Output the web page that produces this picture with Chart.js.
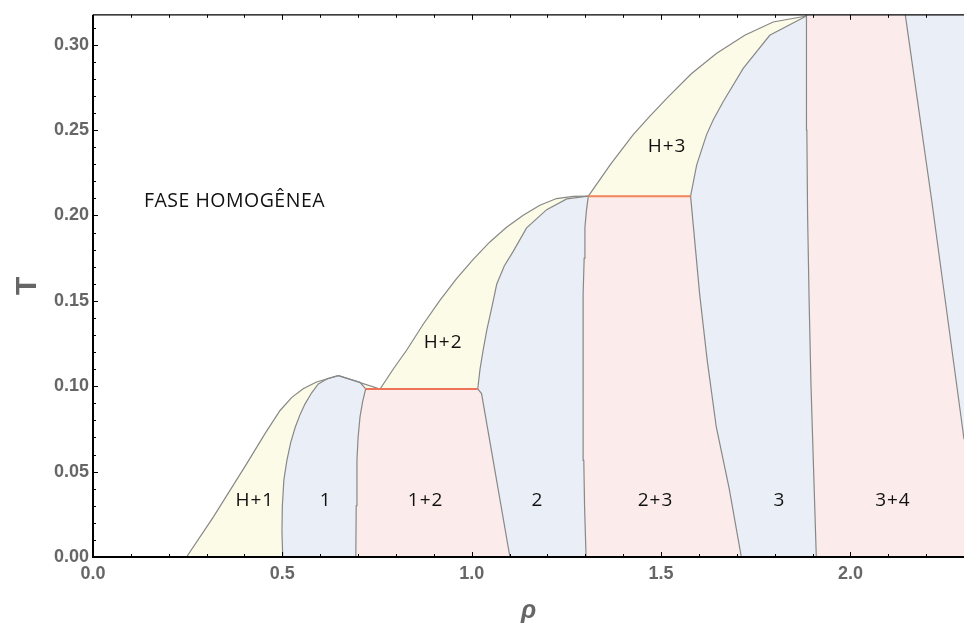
<!DOCTYPE html>
<html>
<head>
<meta charset="utf-8">
<script src="https://cdn.jsdelivr.net/npm/chart.js@4.4.1/dist/chart.umd.min.js"></script>
<style>
  html, body { margin: 0; padding: 0; background: #ffffff; }
  #wrap { width: 964px; height: 626px; }
</style>
</head>
<body>
<div id="wrap"><canvas id="phase" width="964" height="626"></canvas></div>
<script>
// Axis ticks and labels
const rhoTicks = [0, 0.5, 1.0, 1.5, 2.0];
const rhoTickLabels = ['0.0', '0.5', '1.0', '1.5', '2.0'];
const tempTicks = [0, 0.05, 0.10, 0.15, 0.20, 0.25, 0.30];
const tempTickLabels = ['0.00', '0.05', '0.10', '0.15', '0.20', '0.25', '0.30'];
const rhoMax = 2.3;
const tempMax = 0.3175;

// Phase boundaries, [rho, T]
const homH1 = [[0.247, 0], [0.318, 0.0235], [0.406, 0.0547], [0.455, 0.0725], [0.494, 0.0858], [0.525, 0.0935], [0.555, 0.0985], [0.590, 0.1025], [0.648, 0.1062]];
const h1One = [[0.501, 0], [0.499, 0.015], [0.500, 0.030], [0.504, 0.045], [0.512, 0.0566], [0.522, 0.067], [0.534, 0.076], [0.547, 0.0835], [0.560, 0.0897], [0.577, 0.0960], [0.595, 0.1013], [0.620, 0.1045], [0.648, 0.1062]];
const oneTop = [[0.648, 0.1062], [0.705, 0.1023], [0.720, 0.0984]];
const oneOneTwo = [[0.694, 0], [0.695, 0.030], [0.697, 0.0566], [0.700, 0.070], [0.705, 0.0819], [0.712, 0.0910], [0.720, 0.0984]];
const homH2 = [[0.648, 0.1062], [0.758, 0.0984], [0.793, 0.1101], [0.8285, 0.1212], [0.872, 0.1363], [0.916, 0.1503], [0.960, 0.1630], [1.004, 0.1743], [1.048, 0.1845], [1.092, 0.1931], [1.136, 0.2001], [1.180, 0.2060], [1.224, 0.2099], [1.268, 0.2112], [1.308, 0.2113]];
const twoLow = [[1.101, 0], [1.026, 0.0957], [1.016, 0.0984]];
const twoHigh = [[1.016, 0.0984], [1.022, 0.1100], [1.030, 0.1208], [1.040, 0.1330], [1.053, 0.1460], [1.066, 0.1597], [1.086, 0.1704], [1.110, 0.1791], [1.145, 0.1927], [1.198, 0.2034], [1.251, 0.2097], [1.308, 0.2113]];
const twoTwoThree = [[1.302, 0], [1.298, 0.030], [1.296, 0.0566], [1.294, 0.090], [1.294, 0.115], [1.294, 0.135], [1.295, 0.154], [1.297, 0.175], [1.299, 0.193], [1.303, 0.203], [1.308, 0.2113]];
const homH3 = [[1.308, 0.2113], [1.367, 0.2300], [1.426, 0.2472], [1.470, 0.2580], [1.515, 0.2686], [1.580, 0.2830], [1.646, 0.2948], [1.721, 0.3055], [1.796, 0.3133], [1.884, 0.3168]];
const threeLow = [[1.712, 0], [1.680, 0.040], [1.646, 0.076], [1.622, 0.115], [1.602, 0.1538], [1.589, 0.185], [1.578, 0.2113]];
const threeHigh = [[1.578, 0.2113], [1.594, 0.2295], [1.620, 0.2472], [1.638, 0.2560], [1.664, 0.2666], [1.717, 0.2861], [1.787, 0.3055], [1.884, 0.3168]];
const threeThreeFour = [[1.910, 0], [1.903, 0.050], [1.896, 0.100], [1.891, 0.150], [1.887, 0.200], [1.885, 0.250], [1.884, 0.300], [1.884, 0.3175]];
const fourEdge = [[2.145, 0.3175], [2.215, 0.2083], [2.297, 0.0741], [2.3, 0.069]];

// Three-phase lines
const tie12 = [[0.720, 0.0984], [1.016, 0.0984]];
const tie23 = [[1.308, 0.2113], [1.578, 0.2113]];

// Region names and their anchor in (rho, T)
const phaseLabels = [
  ['FASE HOMOGÊNEA', 0.373, 0.2083],
  ['H+1', 0.426, 0.0333],
  ['1', 0.613, 0.0333],
  ['1+2', 0.877, 0.0333],
  ['2', 1.172, 0.0333],
  ['2+3', 1.484, 0.0333],
  ['3', 1.811, 0.0333],
  ['3+4', 2.111, 0.0333],
  ['H+2', 0.9235, 0.1256],
  ['H+3', 1.5145, 0.2404]
];

const YELLOW = '#fbfbe8';
const BLUE = '#eaeff7';
const PINK = '#fcebeb';
const EDGE = '#888888';

const pts = arr => arr.map(([x, y]) => ({ x, y }));
const rev = arr => arr.slice().reverse();

const regions = [
  [YELLOW, [...homH1, ...rev(h1One)]],
  [BLUE, [...h1One, ...oneTop.slice(1), ...rev(oneOneTwo)]],
  [YELLOW, [homH2[0], homH2[1], tie12[0], oneTop[1]]],
  [YELLOW, [...homH2.slice(1), ...rev(twoHigh)]],
  [PINK, [...oneOneTwo, ...tie12.slice(1), ...rev(twoLow)]],
  [BLUE, [...twoLow, ...twoHigh.slice(1), ...rev(twoTwoThree)]],
  [PINK, [...twoTwoThree, ...tie23.slice(1), ...rev(threeLow)]],
  [YELLOW, [...homH3, ...rev(threeHigh)]],
  [BLUE, [...threeLow, ...threeHigh.slice(1), ...rev(threeThreeFour)]],
  [PINK, [...threeThreeFour, ...fourEdge, [rhoMax, 0]]],
  [BLUE, [fourEdge[0], [rhoMax, tempMax], fourEdge[fourEdge.length - 1]]]
];

const boundaries = [homH1, h1One, oneTop, oneOneTwo, homH2, twoLow, twoHigh, twoTwoThree,
  homH3, threeLow, threeHigh, threeThreeFour, fourEdge];

// Higher "order" is painted first, so the filled regions sit underneath the lines
const datasets = [];
regions.forEach(([color, poly]) => datasets.push({
  data: pts(poly), showLine: true, fill: 'shape', backgroundColor: color,
  borderWidth: 0.6, borderColor: color, pointRadius: 0, tension: 0, order: 10
}));
boundaries.forEach(b => datasets.push({
  data: pts(b), showLine: true, fill: false, borderColor: EDGE,
  borderWidth: 1.2, pointRadius: 0, tension: 0, order: 2
}));
datasets.push({ data: pts(tie12), showLine: true, fill: false, borderColor: '#ef7356', borderWidth: 2, pointRadius: 0, order: 1 });
datasets.push({ data: pts(tie23), showLine: true, fill: false, borderColor: '#f0845a', borderWidth: 2, pointRadius: 0, order: 1 });

// Region names drawn at their (rho, T) anchors
const regionText = {
  id: 'regionText',
  afterDatasetsDraw(chart) {
    const { ctx, scales: { x, y } } = chart;
    ctx.save();
    ctx.fillStyle = '#111';
    ctx.textAlign = 'center';
    ctx.textBaseline = 'middle';
    phaseLabels.forEach(([text, r, t], i) => {
      ctx.font = i === 0 ? '19.5px "Open Sans"' : '19px "Open Sans"';
      const sp = i === 0 ? 0.5 : 1;
      ctx.letterSpacing = sp + 'px';
      ctx.fillText(text, x.getPixelForValue(r) + sp / 2, y.getPixelForValue(t));
    });
    ctx.restore();
  }
};

// Frame with inward ticks on bottom, left and top
const frame = {
  id: 'frame',
  afterDatasetsDraw(chart) {
    const { ctx, chartArea: a, scales: { x, y } } = chart;
    ctx.save();
    ctx.strokeStyle = '#000';
    ctx.lineWidth = 1;
    ctx.beginPath();
    for (let i = 0; i <= 23; i++) {
      const px = Math.round(x.getPixelForValue(i / 10)) + 0.5;
      const len = i % 5 === 0 ? 5 : 3;
      ctx.moveTo(px, a.bottom); ctx.lineTo(px, a.bottom - len);
      ctx.moveTo(px, a.top); ctx.lineTo(px, a.top + len);
    }
    for (let i = 0; i <= 31; i++) {
      const py = Math.round(y.getPixelForValue(i / 100)) + 0.5;
      const len = i % 5 === 0 ? 5 : 3;
      ctx.moveTo(a.left, py); ctx.lineTo(a.left + len, py);
    }
    ctx.stroke();
    ctx.lineWidth = 2;
    ctx.beginPath();
    ctx.moveTo(a.left, a.top); ctx.lineTo(a.left, a.bottom); ctx.lineTo(a.right, a.bottom);
    ctx.stroke();
    ctx.lineWidth = 1.3;
    ctx.beginPath();
    ctx.moveTo(a.left, a.top); ctx.lineTo(a.right, a.top);
    ctx.stroke();
    ctx.restore();
  }
};

const tickFont = { family: '"Liberation Sans", Arial, sans-serif', weight: 'bold', size: 18 };

new Chart(document.getElementById('phase'), {
  type: 'scatter',
  data: { datasets },
  options: {
    responsive: false,
    animation: false,
    events: [],
    layout: { padding: { top: 13, right: 0, bottom: 0, left: 0 } },
    plugins: { legend: { display: false }, tooltip: { enabled: false } },
    scales: {
      x: {
        type: 'linear', min: 0, max: rhoMax,
        afterBuildTicks: s => { s.ticks = rhoTicks.map(v => ({ value: v })); },
        afterFit: s => { s.height = 69; },
        ticks: {
          callback: (v, i) => rhoTickLabels[i],
          font: tickFont, color: '#666', padding: 6, maxRotation: 0, autoSkip: false
        },
        grid: { display: false, drawTicks: false },
        border: { display: false },
        title: {
          display: true, text: 'ρ', color: '#666',
          font: { family: '"Liberation Sans", Arial, sans-serif', weight: 'bold', style: 'italic', size: 25 },
          padding: { top: 0, bottom: 0 }
        }
      },
      y: {
        type: 'linear', min: 0, max: tempMax,
        afterBuildTicks: s => { s.ticks = tempTicks.map(v => ({ value: v })); },
        afterFit: s => { s.width = 93; },
        ticks: {
          callback: (v, i) => tempTickLabels[i],
          font: tickFont, color: '#666', padding: 4, autoSkip: false
        },
        grid: { display: false, drawTicks: false },
        border: { display: false },
        title: {
          display: true, text: 'T', color: '#666',
          font: { family: '"Liberation Sans", Arial, sans-serif', weight: 'bold', size: 30 },
          padding: { top: 10, bottom: 0 }
        }
      }
    }
  },
  plugins: [regionText, frame]
});
</script>
</body>
</html>
